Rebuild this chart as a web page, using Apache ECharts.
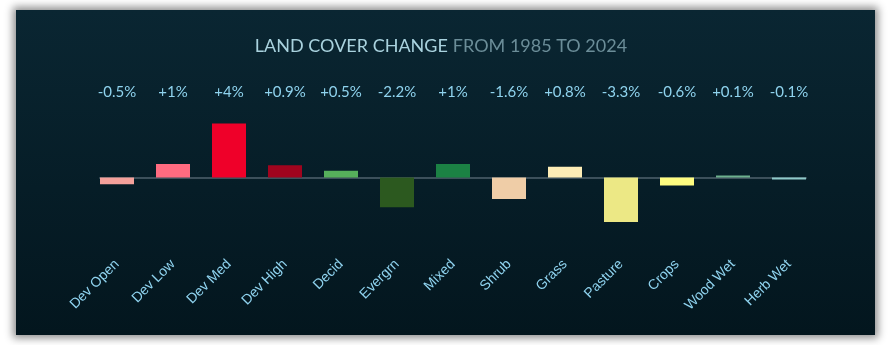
<!DOCTYPE html>
<html><head><meta charset="utf-8">
<script src="https://cdn.jsdelivr.net/npm/echarts@6/dist/echarts.min.js"></script>
<style>
html,body{margin:0;padding:0;background:#fff;width:891px;height:345px;overflow:hidden;}
#card{position:absolute;left:16px;top:10px;width:859px;height:325px;
background:linear-gradient(180deg,#0a2632 0%,#061d27 55%,#03161e 100%);
box-shadow:0 0 8px 3px rgba(0,0,0,0.45);}
#chart{position:absolute;left:0;top:0;width:891px;height:345px;}
</style></head>
<body>
<div id="card"></div>
<div id="chart"></div>
<script>
const categories = ['Dev Open','Dev Low','Dev Med','Dev High','Decid','Evergrn','Mixed','Shrub','Grass','Pasture','Crops','Wood Wet','Herb Wet'];
const values = [-0.5, 1, 4, 0.9, 0.5, -2.2, 1, -1.6, 0.8, -3.3, -0.6, 0.1, -0.1];
const colors = ['#f4a19b','#ff6b80','#ef0029','#a0041e','#56b05b','#2c591f','#1b8144','#efcda7','#fdedb6','#ece885','#fefc80','#6db08e','#8ec9c9'];
const topLabels = values.map(v => (v > 0 ? '+' : '') + v + '%');

const chart = echarts.init(document.getElementById('chart'), null, {renderer:'canvas'});
chart.setOption({
  backgroundColor: 'transparent',
  animation: false,
  title: {
    text: '{a|LAND COVER CHANGE} {b|FROM 1985 TO 2024}',
    left: 436, top: 32, textAlign: 'center',
    textStyle: {
      fontWeight: 'normal',
      rich: {
        a: {fontFamily: 'Lato', fontSize: 18, fontWeight: 'normal', color: '#a9d2de'},
        b: {fontFamily: 'Lato', fontSize: 18, fontWeight: 'normal', color: '#6b8d98'}
      }
    }
  },
  grid: [
    {left: 89, right: 74, top: 110, bottom: 100},
    {left: 100, right: 85, top: 110, bottom: 100}
  ],
  xAxis: [
    {type: 'category', gridIndex: 0, data: categories, position: 'bottom',
      axisLine: {show: false}, axisTick: {show: false},
      axisLabel: {rotate: 45, margin: 17, color: '#8fd3ef', fontFamily: 'Liberation Sans', fontSize: 14, interval: 0}},
    {type: 'category', gridIndex: 0, data: topLabels, position: 'top',
      axisLine: {show: false}, axisTick: {show: false},
      axisLabel: {margin: 10, color: '#8fd3ee', fontFamily: 'Lato', fontSize: 15, interval: 0}},
    {type: 'value', gridIndex: 1, min: 0, max: 1, show: true,
      axisLine: {show: true, onZero: true, lineStyle: {color: '#3c505b', width: 2}},
      axisTick: {show: false}, axisLabel: {show: false}, splitLine: {show: false}}
  ],
  yAxis: [
    {type: 'value', gridIndex: 0, min: -5, max: 5, show: false},
    {type: 'value', gridIndex: 1, min: -5, max: 5, show: false}
  ],
  series: [{
    type: 'bar', xAxisIndex: 0, yAxisIndex: 0, barWidth: 34, barMinHeight: 2,
    data: values.map((v, i) => ({value: v, itemStyle: {color: colors[i]}}))
  }]
});
</script>
</body></html>
